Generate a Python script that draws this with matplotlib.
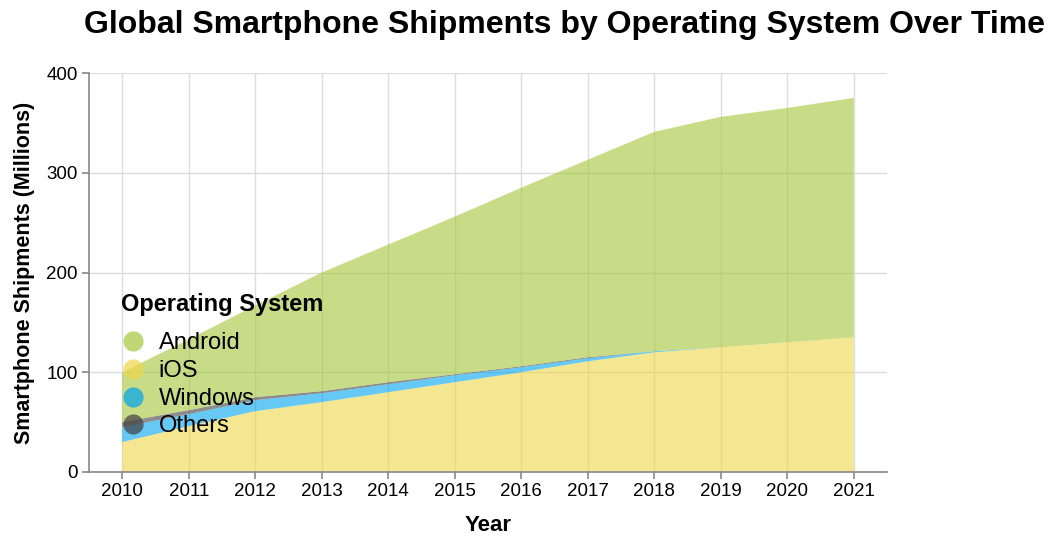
import matplotlib.pyplot as plt
from matplotlib.lines import Line2D

plt.rcParams["font.family"] = ["Liberation Sans", "DejaVu Sans"]

years = [2010, 2011, 2012, 2013, 2014, 2015, 2016, 2017, 2018, 2019, 2020, 2021]
ios = [30, 46, 61, 70, 80, 90, 100, 111, 120, 125, 130, 135]
windows = [15, 12, 11, 9, 8, 7, 5, 3, 1, 0, 0, 0]
others = [5, 4, 3, 2, 2, 1, 1, 1, 0, 0, 0, 0]
android = [50, 71, 92, 119, 138, 158, 179, 198, 220, 231, 235, 240]

names = ["Android", "iOS", "Windows", "Others"]
colors = {"Android": "#A4C639", "iOS": "#EFD748", "Windows": "#00A4EF", "Others": "#404040"}
alpha = 0.6

fig = plt.figure(figsize=(10.6, 5.46), dpi=100)
ax = fig.add_axes([89 / 1060, 1 - 472 / 546, (887 - 89) / 1060, (472 - 73) / 546])

# stacked from the bottom: iOS, Windows, Others, Android
ax.stackplot(years, ios, windows, others, android,
             colors=[colors["iOS"], colors["Windows"], colors["Others"], colors["Android"]],
             alpha=alpha, linewidth=0, zorder=2)

ax.set_xlim(2009.5, 2021.5)
ax.set_ylim(0, 400)
ax.set_xticks(years)
ax.set_xticklabels([str(y) for y in years])
ax.set_yticks([0, 100, 200, 300, 400])

ax.grid(True, color="#dddddd", linewidth=1, zorder=0)
ax.set_axisbelow(True)
for s in ["top", "right"]:
    ax.spines[s].set_visible(False)
for s in ["left", "bottom"]:
    ax.spines[s].set_color("#888888")
    ax.spines[s].set_linewidth(1.2)
ax.tick_params(axis="both", colors="#888888", length=5, width=1.2, labelsize=13.5,
               labelcolor="black", pad=3)

ax.set_xlabel("Year", fontsize=16, fontweight="bold", labelpad=11)
ax.set_ylabel("Smartphone Shipments (Millions)", fontsize=15.5, fontweight="bold", labelpad=8)

fig.text(565 / 1060, 1 - 25 / 546, "Global Smartphone Shipments by Operating System Over Time",
         ha="center", va="center", fontsize=23, fontweight="bold")

handles = [Line2D([], [], marker="o", linestyle="none", markersize=14.5,
                  markerfacecolor=colors[n], markeredgewidth=0, alpha=0.7, label=n)
           for n in names]
leg = ax.legend(handles=handles, title="Operating System", loc="upper left",
                bbox_to_anchor=(109 / 1060, 1 - 281 / 546), bbox_transform=fig.transFigure,
                frameon=False, fontsize=17, title_fontproperties={"weight": "bold", "size": 17},
                handletextpad=0.6, labelspacing=0.24, borderpad=0, handlelength=1.0)
leg._legend_box.align = "left"
leg._legend_box.sep = 12

fig.savefig("out.png", dpi=100)
